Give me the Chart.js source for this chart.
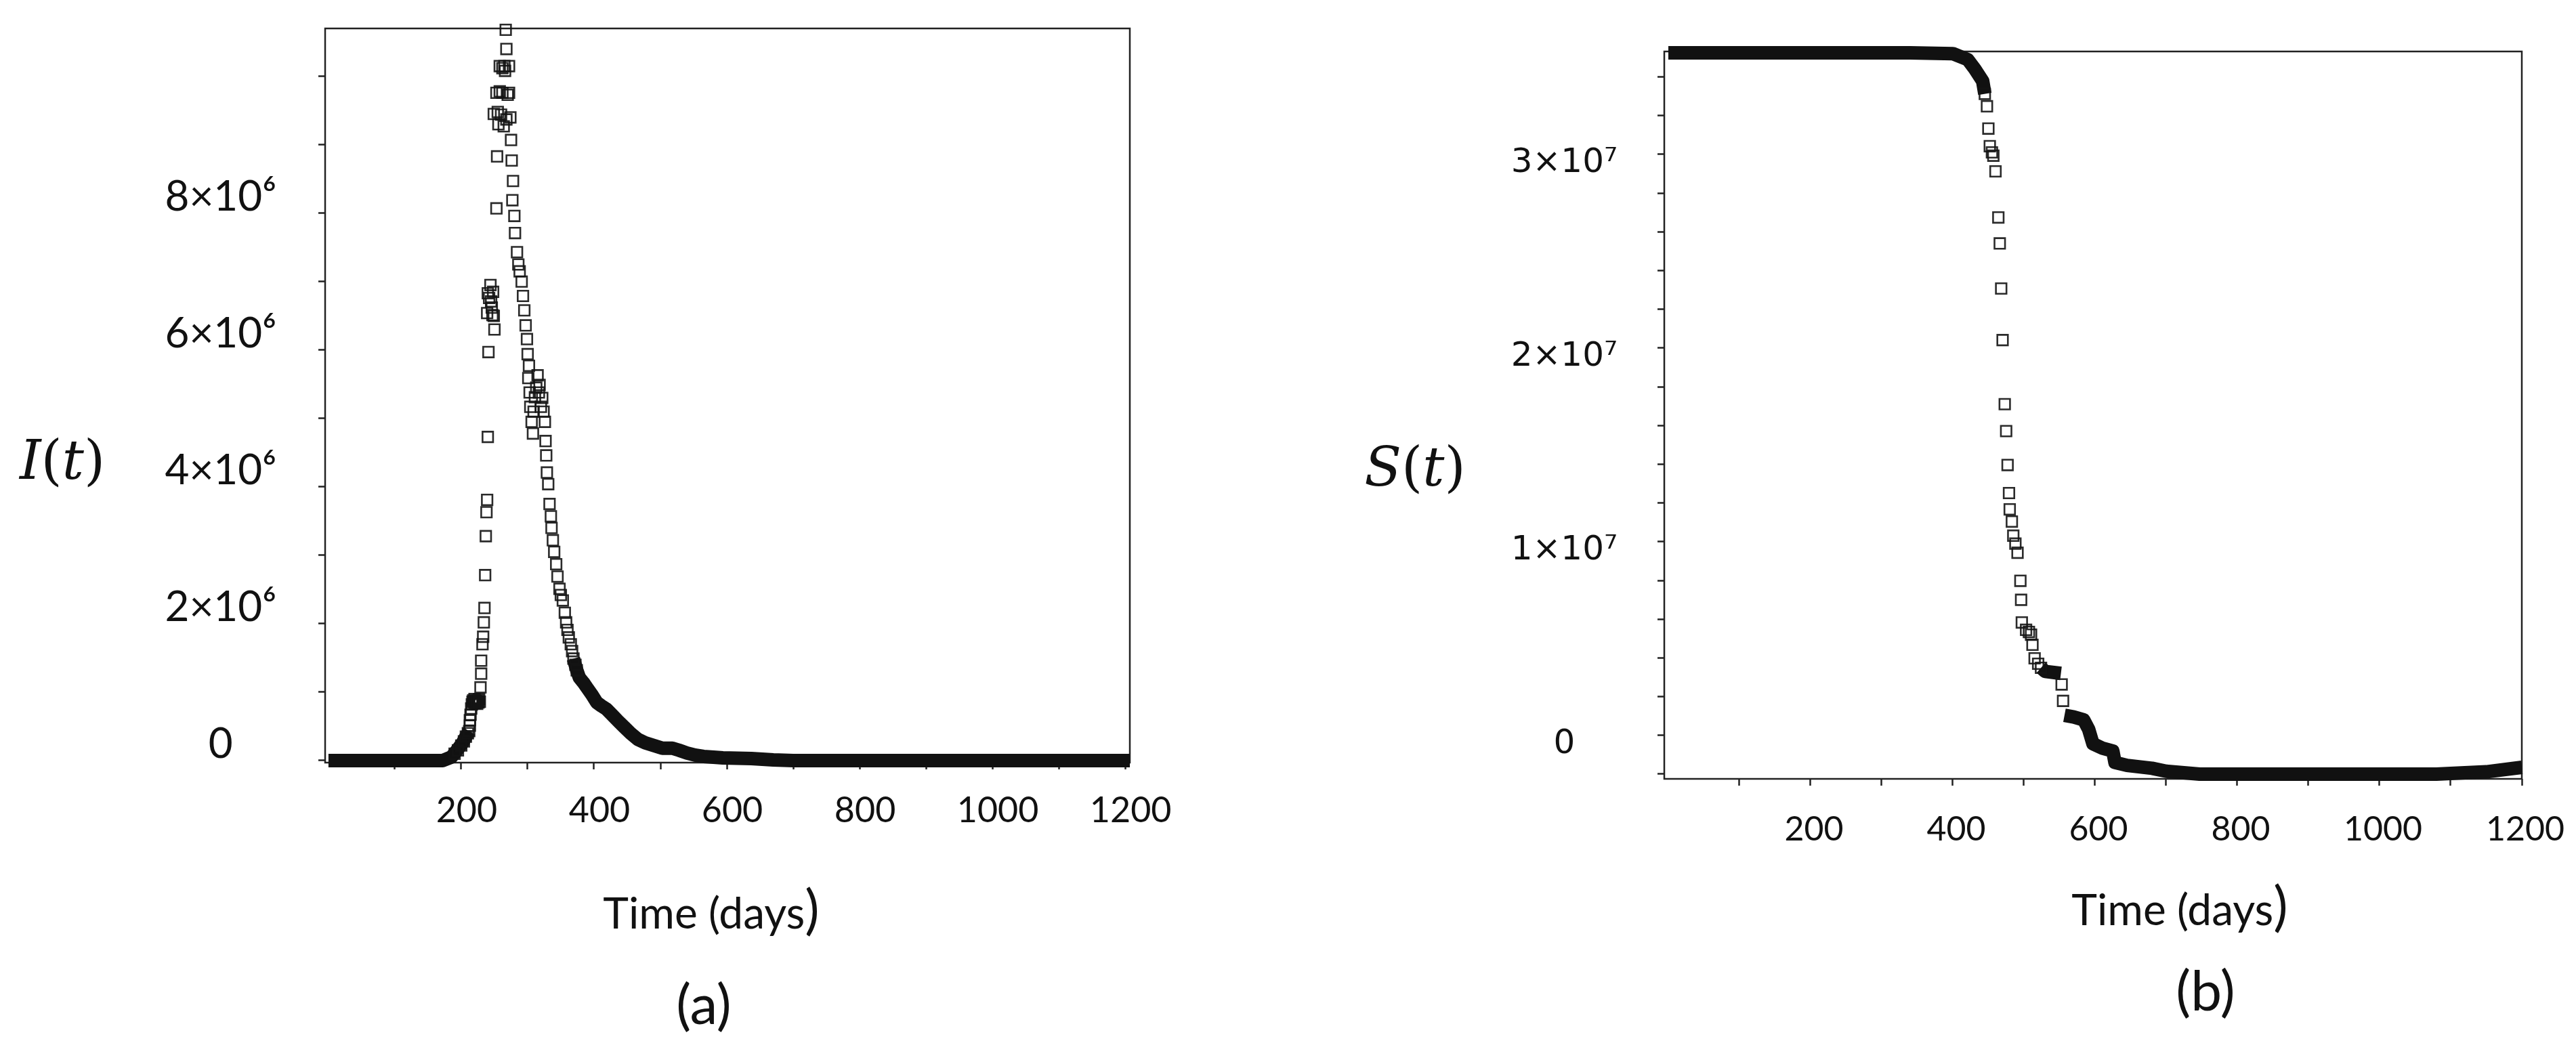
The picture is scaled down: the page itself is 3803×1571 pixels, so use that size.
<!DOCTYPE html>
<html lang="en">
<head>
<meta charset="utf-8">
<title>I(t) and S(t)</title>
<script src="https://cdn.jsdelivr.net/npm/chart.js@4.4.1/dist/chart.umd.min.js"></script>
<style>
  html, body { margin: 0; padding: 0; background: #fff; }
  body { position: relative; width: 3803px; height: 1571px; overflow: hidden; }
  canvas { position: absolute; top: 0; }
  #chartI { left: 0; }
  #chartS { left: 1900px; }
  .caption { position: absolute; transform: translate(-50%, -50%); white-space: nowrap; line-height: 1; color: #111; }
  .var { font-family: "DejaVu Serif", serif; font-size: 80px; }
  .var i { font-style: italic; }
  .time { font-family: Lato, sans-serif; font-size: 64px; }
  .time span { font-size: 80px; }
  .panel { font-family: Lato, sans-serif; font-size: 82px; }
</style>
</head>
<body>
<canvas id="chartI" width="1900" height="1571"></canvas>
<canvas id="chartS" width="1903" height="1571"></canvas>
<div class="caption var" style="left: 92px; top: 680px;"><i>I</i>(<i>t</i>)</div>
<div class="caption time" style="left: 1050px; top: 1340px;">Time (days<span>)</span></div>
<div class="caption panel" style="left: 1039px; top: 1480px;">(a)</div>
<div class="caption var" style="left: 2089px; top: 690px;"><i>S</i>(<i>t</i>)</div>
<div class="caption time" style="left: 3218px; top: 1335px;">Time (days<span>)</span></div>
<div class="caption panel" style="left: 3256px; top: 1460px;">(b)</div>
<script>
// ---- data ----

// x axis (days), shared by both panels
const xTicks = [100, 200, 300, 400, 500, 600, 700, 800, 900, 1000, 1100, 1200];
const xTickLabels = ["", "200", "", "400", "", "600", "", "800", "", "1000", "", "1200"];

// panel (a): I(t), single squares
const iDays = [
    190, 195, 200, 204, 207, 210, 212, 213, 213, 214, 215, 216, 217, 218, 219, 220,
    221, 222, 223, 224, 225, 226, 227, 228, 229, 230, 230, 232, 233, 234, 235, 236,
    237, 238, 239, 239, 240, 240, 241, 242, 244, 245, 246, 247, 248, 249, 249, 250,
    253, 253, 254, 255, 256, 258, 258, 260, 262, 262, 264, 265, 266, 267, 268, 268,
    270, 272, 272, 274, 275, 276, 277, 278, 280, 281, 284, 286, 288, 291, 293, 295,
    297, 299, 300, 301, 302, 303, 304, 306, 308, 309, 311, 313, 315, 317, 318, 320,
    322, 324, 326, 327, 328, 329, 331, 333, 335, 336, 338, 340, 343, 345, 348, 350,
    353, 356, 358, 360, 362, 365, 367, 369, 372, 374,
];
const iValues = [
    1.0e5, 1.5e5, 2.2e5, 2.8e5, 3.5e5, 4.0e5, 4.3e5, 5.1e5, 5.9e5, 6.7e5, 7.6e5, 8.2e5, 8.6e5, 8.8e5, 8.5e5, 9.0e5,
    8.4e5, 8.7e5, 8.6e5, 8.3e5, 8.8e5, 8.5e5, 9.0e5, 8.6e5, 1.07e6, 1.27e6, 1.46e6, 1.70e6, 1.81e6, 2.02e6, 2.23e6, 2.71e6,
    3.28e6, 3.63e6, 3.81e6, 6.54e6, 4.73e6, 6.83e6, 5.97e6, 6.76e6, 6.95e6, 6.71e6, 6.62e6, 6.51e6, 6.85e6, 6.50e6, 9.45e6, 6.30e6,
    8.07e6, 9.76e6, 8.83e6, 9.48e6, 9.30e6, 10.15e6, 9.78e6, 9.44e6, 9.76e6, 10.12e6, 9.27e6, 10.15e6, 10.08e6, 10.68e6, 9.37e6, 10.40e6,
    9.73e6, 10.15e6, 9.76e6, 9.40e6, 9.07e6, 8.77e6, 8.19e6, 8.47e6, 7.96e6, 7.71e6, 7.43e6, 7.25e6, 7.15e6, 7.00e6, 6.79e6, 6.58e6,
    6.36e6, 6.16e6, 5.94e6, 5.59e6, 5.77e6, 5.38e6, 5.17e6, 4.95e6, 4.78e6, 5.10e6, 5.31e6, 5.45e6, 5.63e6, 5.38e6, 5.49e6, 5.17e6,
    5.30e6, 5.10e6, 4.95e6, 4.67e6, 4.46e6, 4.21e6, 4.04e6, 3.75e6, 3.57e6, 3.40e6, 3.22e6, 3.05e6, 2.87e6, 2.69e6, 2.51e6, 2.42e6,
    2.34e6, 2.16e6, 2.02e6, 1.91e6, 1.80e6, 1.70e6, 1.60e6, 1.49e6, 1.40e6, 1.32e6,
];
// panel (a): runs where the daily squares merge into a solid band (null breaks the run)
const iRunDays = [
    0, 172, 185, 192, 202, 207, 212, 212,
    369, 374, 378, 384, 389, 397, 404, 411, 419, 428, 437, 446, 455, 466, 477, 490,
    503, 518, 528, 540, 552, 565, 580, 594, 615, 637, 670, 700, 1207,
];
const iRunValues = [
    0, 0, 5e4, 1.3e5, 2.6e5, 3.5e5, 4.3e5, null,
    1.49e6, 1.32e6, 1.21e6, 1.14e6, 1.07e6, 9.6e5, 8.5e5, 8.0e5, 7.5e5, 6.6e5, 5.7e5, 4.85e5, 4.0e5, 3.1e5, 2.6e5, 2.2e5,
    1.8e5, 1.8e5, 1.5e5, 1.1e5, 8e4, 6e4, 5e4, 4e4, 3.5e4, 3e4, 1e4, 0, 0,
];
const iTicks = [0, 1e6, 2e6, 3e6, 4e6, 5e6, 6e6, 7e6, 8e6, 9e6, 1e7];
const iTickLabels = ["0", "", "2×10⁶", "", "4×10⁶", "", "6×10⁶", "", "8×10⁶", "", ""];

// panel (b): S(t), single squares
const sDays = [
    445, 448, 450, 452, 455, 457, 460, 464, 466, 468, 470, 473, 475, 477, 479, 480,
    483, 485, 488, 491, 495, 496, 497, 503, 507, 510, 512, 515, 520, 524, 553, 555,
];
const sValues = [
    3.512e7, 3.448e7, 3.333e7, 3.242e7, 3.21e7, 3.193e7, 3.112e7, 2.874e7, 2.740e7, 2.507e7, 2.241e7, 1.910e7, 1.771e7, 1.596e7, 1.451e7, 1.367e7,
    1.304e7, 1.231e7, 1.19e7, 1.143e7, 9.98e6, 9.00e6, 7.83e6, 7.45e6, 7.34e6, 7.20e6, 6.68e6, 5.98e6, 5.70e6, 5.49e6, 4.63e6, 3.78e6,
];
// panel (b): solid runs
const sRunDays = [
    0, 340, 400, 421, 431, 442, 445, 445,
    524, 530, 552, 552,
    557, 570, 584, 591, 597, 611, 625, 628, 645, 680, 700, 747, 1080, 1150, 1200,
];
const sRunValues = [
    3.724e7, 3.724e7, 3.72e7, 3.689e7, 3.64e7, 3.578e7, 3.512e7, null,
    5.49e6, 5.3e6, 5.2e6, null,
    3.04e6, 2.95e6, 2.8e6, 2.31e6, 1.57e6, 1.33e6, 1.19e6, 6.0e5, 4.5e5, 3.0e5, 1.5e5, 0, 0, 1.2e5, 3.5e5,
];
const sTicks = [
    0, 2e6, 4e6, 6e6, 8e6, 1e7, 1.2e7, 1.4e7, 1.6e7, 1.8e7,
    2e7, 2.2e7, 2.4e7, 2.6e7, 2.8e7, 3e7, 3.2e7, 3.4e7, 3.6e7,
];
const sTickLabels = [
    "0", "", "", "", "", "1×10⁷", "", "", "", "",
    "2×10⁷", "", "", "", "", "3×10⁷", "", "", "",
];

// ---- drawing ----

function toPoints(days, values) {
    return days.map((day, i) => ({ x: day, y: values[i] }));
}

const plotBox = {
    id: "plotBox",
    beforeDatasetsDraw(chart) {
        const { ctx, chartArea } = chart;
        ctx.save();
        ctx.strokeStyle = "#222";
        ctx.lineWidth = 2.5;
        ctx.strokeRect(chartArea.left, chartArea.top, chartArea.width, chartArea.height);
        ctx.restore();
    },
};

function tickGrid() {
    return { drawOnChartArea: false, drawTicks: true, tickLength: 10, tickWidth: 2.5, tickColor: "#222" };
}

function makePanel(canvasId, panel) {
    return new Chart(document.getElementById(canvasId), {
        type: "scatter",
        data: {
            datasets: [
                {
                    label: panel.name,
                    data: toPoints(panel.days, panel.values),
                    order: 1,
                    pointStyle: "rect",
                    pointRadius: 11,
                    pointBorderWidth: 2.6,
                    pointBorderColor: "rgba(20, 20, 20, 0.9)",
                    pointBackgroundColor: "rgba(0, 0, 0, 0)",
                    clip: false,
                },
                {
                    label: panel.name + " band",
                    data: toPoints(panel.runDays, panel.runValues),
                    order: 2,
                    showLine: true,
                    spanGaps: false,
                    borderColor: "#111",
                    borderWidth: 20,
                    borderJoinStyle: "round",
                    borderCapStyle: "butt",
                    pointRadius: 0,
                    tension: 0,
                    clip: false,
                },
            ],
        },
        options: {
            responsive: false,
            devicePixelRatio: 1,
            animation: false,
            events: [],
            layout: { padding: panel.padding },
            plugins: { legend: { display: false }, tooltip: { enabled: false } },
            scales: {
                x: {
                    type: "linear",
                    min: panel.xMin,
                    max: panel.xMax,
                    afterBuildTicks: (scale) => {
                        scale.ticks = xTicks.map((value) => ({ value }));
                    },
                    afterFit: (scale) => {
                        scale.height = panel.xHeight;
                        scale.paddingLeft = 0;
                        scale.paddingRight = 0;
                    },
                    ticks: {
                        autoSkip: false,
                        maxRotation: 0,
                        minRotation: 0,
                        padding: panel.xPad,
                        labelOffset: panel.xShift,
                        color: "#111",
                        font: { family: "Lato", size: panel.xFont },
                        callback: (value, index) => xTickLabels[index],
                    },
                    grid: tickGrid(),
                    border: { display: false },
                },
                y: {
                    type: "linear",
                    min: panel.yMin,
                    max: panel.yMax,
                    afterBuildTicks: (scale) => {
                        scale.ticks = panel.yTicks.map((value) => ({ value }));
                    },
                    afterFit: (scale) => {
                        scale.width = panel.yWidth;
                        scale.paddingTop = 0;
                        scale.paddingBottom = 0;
                    },
                    ticks: {
                        autoSkip: false,
                        crossAlign: "center",
                        padding: panel.yPad,
                        labelOffset: panel.yShift,
                        color: "#111",
                        font: { family: panel.yFamily, size: panel.yFont },
                        callback: (value, index) => panel.yTickLabels[index],
                    },
                    grid: tickGrid(),
                    border: { display: false },
                },
            },
        },
        plugins: [plotBox],
    });
}

function drawAll() {
    makePanel("chartI", {
        name: "I(t)",
        days: iDays,
        values: iValues,
        runDays: iRunDays,
        runValues: iRunValues,
        yTicks: iTicks,
        yTickLabels: iTickLabels,
        xMin: -5,
        xMax: 1207,
        yMin: -3e4,
        yMax: 1.07e7,
        padding: { top: 42, right: 232, left: 0, bottom: 0 },
        xHeight: 445,
        xPad: 30,
        xShift: 8,
        xFont: 52,
        yWidth: 480,
        yPad: 62,
        yShift: -24,
        yFamily: "Lato",
        yFont: 62,
    });

    makePanel("chartS", {
        name: "S(t)",
        days: sDays,
        values: sValues,
        runDays: sRunDays,
        runValues: sRunValues,
        yTicks: sTicks,
        yTickLabels: sTickLabels,
        xMin: -5.7,
        xMax: 1200,
        yMin: -2.45e5,
        yMax: 3.731e7,
        padding: { top: 76, right: 80, left: 0, bottom: 0 },
        xHeight: 421,
        xPad: 35,
        xShift: 5,
        xFont: 50,
        yWidth: 557,
        yPad: 59,
        yShift: -44,
        yFamily: "DejaVu Sans",
        yFont: 50,
    });
}

document.fonts.ready.then(drawAll);
</script>
</body>
</html>
